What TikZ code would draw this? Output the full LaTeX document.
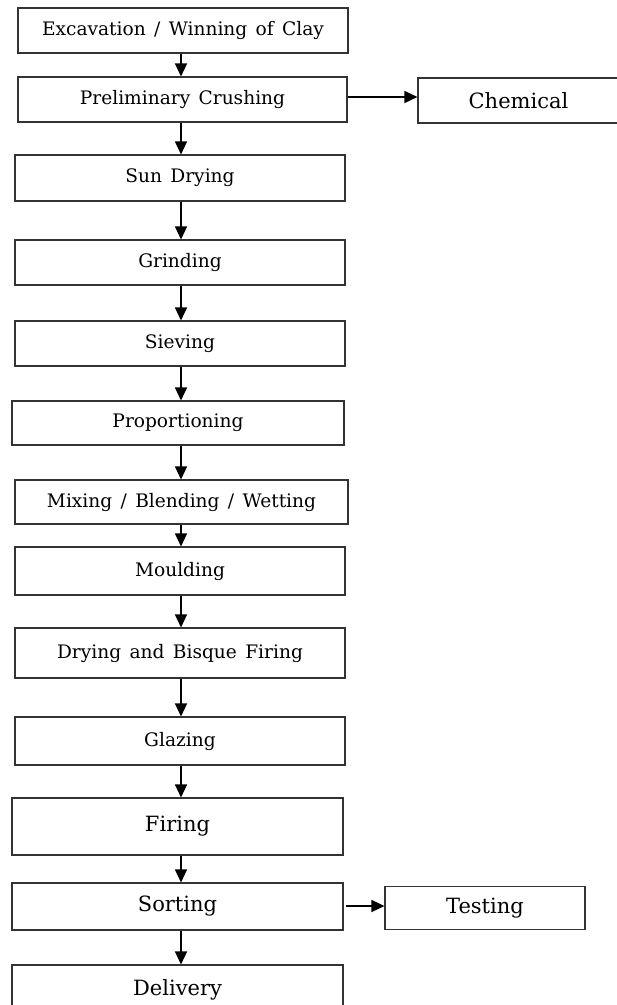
\documentclass[tikz,border=0pt]{standalone}
\usepackage{fontspec}
\setmainfont{DejaVu Serif}
\usetikzlibrary{arrows.meta,calc}
\newcommand{\smallfnt}{\fontsize{18.6}{21}\selectfont\spaceskip=0.45em plus 0.1em}
\newcommand{\bigfnt}{\fontsize{21}{25}\selectfont}
\tikzset{
  stepbox/.style={draw=black!80, line width=1.1pt, minimum width=#1, inner sep=0pt, anchor=center, font=\smallfnt},
  bigbox/.style={draw=black!80, line width=1.1pt, minimum width=#1, inner sep=0pt, anchor=center, font=\bigfnt},
  arr/.style={draw=black, line width=1.4pt, -{Triangle[width=12pt,length=13pt]}},
}
\begin{document}
\begin{tikzpicture}[x=1pt,y=-1pt]
\useasboundingbox (0,0) rectangle (617,1005);
\coordinate (ax) at (181,0);
\node[stepbox=330pt, minimum height=45pt] (exc) at (183,30.5) {Excavation / Winning of Clay};
\node[stepbox=329pt, minimum height=45pt] (pre) at (182.5,99.5) {Preliminary Crushing};
\node[bigbox=201pt, minimum height=45pt] (chem) at (518.5,100.5) {Chemical};
\node[stepbox=330pt, minimum height=46pt] (sun) at (180,178) {Sun Drying};
\node[stepbox=330pt, minimum height=45pt] (gri) at (180,262.5) {Grinding};
\node[stepbox=330pt, minimum height=45pt] (sie) at (180,343.5) {Sieving};
\node[stepbox=332pt, minimum height=44pt] (pro) at (178,423) {Proportioning};
\node[stepbox=333pt, minimum height=44pt] (mix) at (181.5,502) {Mixing / Blending / Wetting};
\node[stepbox=330pt, minimum height=48pt] (mou) at (180,571) {Moulding};
\node[stepbox=330pt, minimum height=50pt] (dry) at (180,653) {\raisebox{3pt}{Drying and Bisque Firing}};
\node[stepbox=330pt, minimum height=48pt] (gla) at (180,741) {Glazing};
\node[bigbox=331pt, minimum height=57pt] (fir) at (177.5,826.5) {\raisebox{5pt}{Firing}};
\node[bigbox=331pt, minimum height=47pt] (sor) at (177.5,906.5) {Sorting};
\node[bigbox=200pt, minimum height=43pt] (tes) at (485,908) {Testing};
\node[bigbox=331pt, minimum height=50pt] (del) at (177.5,990) {Delivery};
\draw[arr] (exc.south -| ax) -- (pre.north -| ax);
\draw[arr] (pre.south -| ax) -- (sun.north -| ax);
\draw[arr] (sun.south -| ax) -- (gri.north -| ax);
\draw[arr] (gri.south -| ax) -- (sie.north -| ax);
\draw[arr] (sie.south -| ax) -- (pro.north -| ax);
\draw[arr] (pro.south -| ax) -- (mix.north -| ax);
\draw[arr] (mix.south -| ax) -- (mou.north -| ax);
\draw[arr] (mou.south -| ax) -- (dry.north -| ax);
\draw[arr] (dry.south -| ax) -- (gla.north -| ax);
\draw[arr] (gla.south -| ax) -- (fir.north -| ax);
\draw[arr] (fir.south -| ax) -- (sor.north -| ax);
\draw[arr] (sor.south -| ax) -- (del.north -| ax);
\draw[arr] (pre.east |- 0,97) -- (chem.west |- 0,97);
\draw[arr] ($(sor.east |- 0,906)+(2,0)$) -- (tes.west |- 0,906);
\end{tikzpicture}
\end{document}
